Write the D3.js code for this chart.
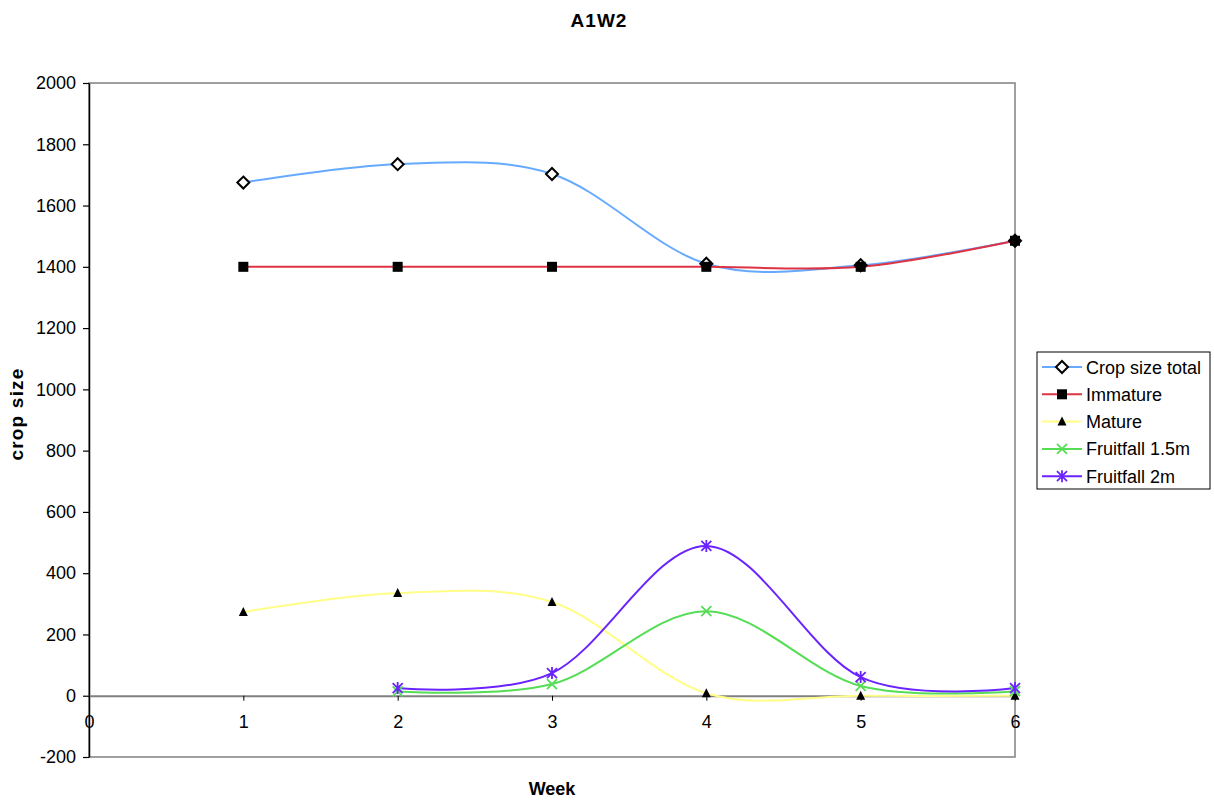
<!DOCTYPE html>
<html>
<head>
<meta charset="utf-8">
<script src="https://cdn.jsdelivr.net/npm/d3@7"></script>
<style>
  body { margin: 0; background: #fff; }
  svg { display: block; font-family: "Liberation Sans", Arial, sans-serif; }
</style>
</head>
<body>
<svg id="chart" width="1214" height="804"></svg>
<script>
// Weekly crop counts for plot A1W2
const weeks = [1, 2, 3, 4, 5, 6];
const cropTotal = [1675, 1735, 1703, 1410, 1405, 1485];
const immature = [1400, 1400, 1400, 1400, 1400, 1485];
const mature = [273, 335, 306, 8, 0, 0];
const fruitfallWeeks = [2, 3, 4, 5, 6];
const fruitfall15 = [14, 38, 276, 32, 15];
const fruitfall2 = [25, 74, 489, 61, 25];
const xTicks = [0, 1, 2, 3, 4, 5, 6];
const yTicks = [-200, 0, 200, 400, 600, 800, 1000, 1200, 1400, 1600, 1800, 2000];

const series = [
  { name: "Crop size total", x: weeks, y: cropTotal, color: "#66aaff", marker: "diamond" },
  { name: "Immature", x: weeks, y: immature, color: "#dd3344", marker: "square" },
  { name: "Mature", x: weeks, y: mature, color: "#ffff88", marker: "triangle" },
  { name: "Fruitfall 1.5m", x: fruitfallWeeks, y: fruitfall15, color: "#55dd55", marker: "cross" },
  { name: "Fruitfall 2m", x: fruitfallWeeks, y: fruitfall2, color: "#6a22ff", marker: "star" }
];

const svg = d3.select("#chart");
const L = 89, R = 1015, T = 83, B = 757;

const x = d3.scaleLinear().domain([0, 6]).range([L, R]);
const y = d3.scaleLinear().domain([-200, 2000]).range([B, T]);
const fmt = d => String(d);

// plot frame: grey top/right/bottom
svg.append("rect").attr("x", L).attr("y", T).attr("width", R - L).attr("height", B - T)
  .attr("fill", "#fff").attr("stroke", "#808080").attr("stroke-width", 1.5);

// y axis (black, ticks outside)
const yAxis = d3.axisLeft(y).tickValues(yTicks).tickSize(6).tickSizeOuter(0).tickFormat(fmt);
const gy = svg.append("g").attr("transform", `translate(${L},0)`).call(yAxis);
gy.select(".domain").attr("stroke", "#000").attr("stroke-width", 1.5);
gy.selectAll(".tick line").attr("stroke", "#000").attr("stroke-width", 1.2);
gy.selectAll(".tick text").attr("font-size", 18).attr("fill", "#000").attr("x", -13)
  .attr("font-family", "Liberation Sans, Arial, sans-serif");

// x axis crossing at zero
const xAxis = d3.axisBottom(x).tickValues(xTicks).tickSize(5).tickSizeOuter(0).tickFormat(fmt);
const gx = svg.append("g").attr("transform", `translate(0,${y(0)})`).call(xAxis);
gx.select(".domain").attr("stroke", "#808080").attr("stroke-width", 2);
gx.selectAll(".tick line").attr("stroke", "#000").attr("stroke-width", 1);
gx.selectAll(".tick text").attr("font-size", 18).attr("fill", "#000").attr("y", 20)
  .attr("font-family", "Liberation Sans, Arial, sans-serif");

// smoothed lines
const line = d3.line().x(d => x(d[0])).y(d => y(d[1])).curve(d3.curveCardinal.tension(0));
series.forEach(s => {
  const pts = s.x.map((w, i) => [w, s.y[i]]);
  svg.append("path").datum(pts).attr("d", line).attr("fill", "none")
    .attr("stroke", s.color).attr("stroke-width", 2);
});

function drawMarker(g, type, cx, cy, color) {
  if (type === "diamond") {
    g.append("path").attr("d", `M${cx},${cy - 6}L${cx + 6},${cy}L${cx},${cy + 6}L${cx - 6},${cy}Z`)
      .attr("fill", "#fff").attr("stroke", "#000").attr("stroke-width", 2);
  } else if (type === "square") {
    g.append("rect").attr("x", cx - 5).attr("y", cy - 5).attr("width", 10).attr("height", 10).attr("fill", "#000");
  } else if (type === "triangle") {
    g.append("path").attr("d", `M${cx},${cy - 5}L${cx + 4.5},${cy + 4}L${cx - 4.5},${cy + 4}Z`).attr("fill", "#000");
  } else if (type === "cross") {
    g.append("path").attr("d", `M${cx - 5},${cy - 5}L${cx + 5},${cy + 5}M${cx + 5},${cy - 5}L${cx - 5},${cy + 5}`)
      .attr("stroke", color).attr("stroke-width", 1.8);
  } else if (type === "star") {
    g.append("path").attr("d", `M${cx - 5},${cy - 5}L${cx + 5},${cy + 5}M${cx + 5},${cy - 5}L${cx - 5},${cy + 5}M${cx},${cy - 6}L${cx},${cy + 6}`)
      .attr("stroke", color).attr("stroke-width", 1.8);
  }
}

series.forEach(s => {
  const g = svg.append("g");
  s.x.forEach((w, i) => drawMarker(g, s.marker, x(w), y(s.y[i]), s.color));
});

// titles
svg.append("text").attr("x", 599).attr("y", 27).attr("text-anchor", "middle")
  .attr("font-size", 19).attr("letter-spacing", 1).attr("font-weight", "bold").text("A1W2");
svg.append("text").attr("x", 552).attr("y", 795).attr("text-anchor", "middle")
  .attr("font-size", 18).attr("font-weight", "bold").text("Week");
svg.append("text").attr("transform", "translate(23,414) rotate(-90)").attr("text-anchor", "middle")
  .attr("font-size", 19).attr("letter-spacing", 1.2).attr("font-weight", "bold").text("crop size");

// legend
const lg = svg.append("g").attr("transform", "translate(1037,352)");
lg.append("rect").attr("width", 173).attr("height", 137).attr("fill", "#fff").attr("stroke", "#000").attr("stroke-width", 1);
series.forEach((s, i) => {
  const yy = 15 + i * 27.3;
  lg.append("line").attr("x1", 5).attr("x2", 45).attr("y1", yy).attr("y2", yy)
    .attr("stroke", s.color).attr("stroke-width", 2);
  drawMarker(lg, s.marker, 25, yy, s.color);
  lg.append("text").attr("x", 49).attr("y", yy + 6.5).attr("font-size", 18).text(s.name);
});
</script>
</body>
</html>
